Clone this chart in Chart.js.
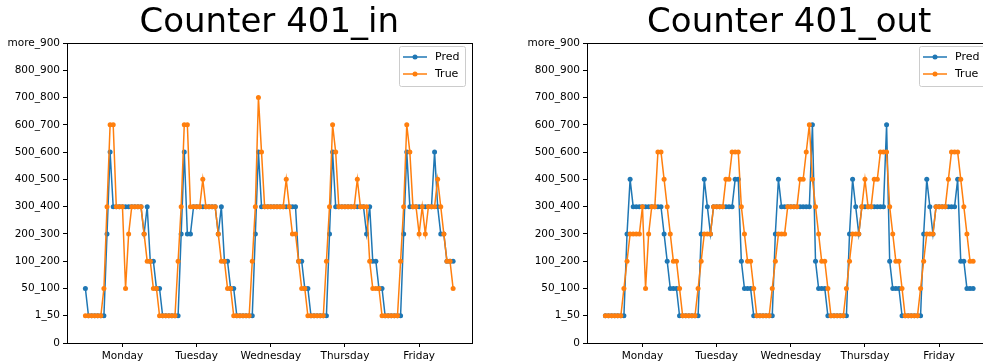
<!DOCTYPE html>
<html>
<head>
<meta charset="utf-8">
<script src="https://cdn.jsdelivr.net/npm/chart.js@4.4.0/dist/chart.umd.min.js"></script>
<style>
  html, body { margin: 0; padding: 0; background: #fff; overflow: hidden; width: 983px; height: 364px; }
  canvas { position: absolute; top: 0; }
  #chart-in { left: 0; }
  #chart-out { left: 520px; }
</style>
</head>
<body>
<canvas id="chart-in" width="490" height="364"></canvas>
<canvas id="chart-out" width="490" height="364"></canvas>
<script>
// y categories (bins) - values below are indexes into this list
const categories = ['0', '1_50', '50_100', '100_200', '200_300', '300_400', '400_500',
  '500_600', '600_700', '700_800', '800_900', 'more_900']
const days = ['Monday', 'Tuesday', 'Wednesday', 'Thursday', 'Friday']
const dayTicks = [12, 36, 60, 84, 108]

// hourly bins, Monday..Friday (24 per day)
const predIn = [
  2,1,1,1,1,1,1,4,7,5,5,5,5,5,5,5,5,5,5,4,5,3,3,2,
  2,1,1,1,1,1,1,4,7,4,4,5,5,5,5,5,5,5,5,4,5,3,3,2,
  2,1,1,1,1,1,1,4,7,5,5,5,5,5,5,5,5,5,5,5,5,3,3,2,
  2,1,1,1,1,1,1,4,7,5,5,5,5,5,5,5,5,5,5,4,5,3,3,2,
  2,1,1,1,1,1,1,4,7,5,5,5,5,5,5,5,5,7,5,4,4,3,3,3
]
const trueIn = [
  1,1,1,1,1,1,2,5,8,8,5,5,5,2,4,5,5,5,5,4,3,3,2,2,
  1,1,1,1,1,1,3,5,8,8,5,5,5,5,6,5,5,5,5,4,3,3,2,2,
  1,1,1,1,1,1,3,5,9,7,5,5,5,5,5,5,5,6,5,4,4,3,2,2,
  1,1,1,1,1,1,3,5,8,7,5,5,5,5,5,5,6,5,5,5,3,2,2,2,
  1,1,1,1,1,1,3,5,8,7,5,5,4,5,4,5,5,5,6,5,4,3,3,2
]
const predOut = [
  1,1,1,1,1,1,1,4,6,5,5,5,5,5,5,5,5,5,5,4,3,2,2,2,
  1,1,1,1,1,1,1,4,6,5,4,5,5,5,5,5,5,5,6,6,3,2,2,2,
  1,1,1,1,1,1,1,4,6,5,5,5,5,5,5,5,5,5,5,8,3,2,2,2,
  1,1,1,1,1,1,1,4,6,5,4,5,5,5,5,5,5,5,5,8,3,2,2,2,
  1,1,1,1,1,1,1,4,6,5,4,5,5,5,5,5,5,5,6,3,3,2,2,2
]
const trueOut = [
  1,1,1,1,1,1,2,3,4,4,4,4,5,2,4,5,5,7,7,6,5,4,3,3,
  2,1,1,1,1,1,2,3,4,4,4,5,5,5,5,6,6,7,7,7,5,4,3,3,
  2,1,1,1,1,1,2,3,4,4,4,5,5,5,5,6,6,7,8,6,5,4,3,3,
  2,1,1,1,1,1,2,3,4,4,4,5,6,5,5,6,6,7,7,7,5,4,3,3,
  2,1,1,1,1,1,2,3,4,4,4,5,5,5,5,6,7,7,7,6,5,4,3,3
]

const BLUE = '#1f77b4'
const ORANGE = '#ff7f0e'
const FONT = 'DejaVu Sans'

// matplotlib-style box frame + legend in the upper right
const framePlugin = {
  id: 'frameLegend',
  afterDraw(chart) {
    const ctx = chart.ctx
    const a = chart.chartArea
    ctx.save()
    ctx.strokeStyle = '#000'
    ctx.lineWidth = 1
    ctx.strokeRect(Math.round(a.left) + 0.5, Math.round(a.top) + 0.5,
      Math.round(a.right - a.left), Math.round(a.bottom - a.top))

    // legend box
    const bx = a.right - 72.5
    const by = a.top + 3
    ctx.fillStyle = 'rgba(255,255,255,0.8)'
    ctx.strokeStyle = '#cccccc'
    ctx.beginPath()
    ctx.roundRect(bx + 0.5, by + 0.5, 66, 40, 2)
    ctx.fill()
    ctx.stroke()

    const rows = [['Pred', BLUE, a.top + 14], ['True', ORANGE, a.top + 31]]
    rows.forEach(([label, color, y]) => {
      ctx.strokeStyle = color
      ctx.lineWidth = 1.5
      ctx.beginPath()
      ctx.moveTo(bx + 4, y)
      ctx.lineTo(bx + 28, y)
      ctx.stroke()
      ctx.fillStyle = color
      ctx.beginPath()
      ctx.arc(bx + 16, y, 2.5, 0, Math.PI * 2)
      ctx.fill()
      ctx.fillStyle = '#000'
      ctx.font = '11px "' + FONT + '"'
      ctx.textBaseline = 'middle'
      ctx.textAlign = 'left'
      ctx.fillText(label, bx + 36, y)
    })
    ctx.restore()
  }
}

function series(values, color, label, order) {
  return {
    label: label,
    data: values.map((v, i) => ({ x: i, y: v })),
    borderColor: color,
    backgroundColor: color,
    borderWidth: 1.5,
    pointRadius: 2.5,
    pointBorderWidth: 0,
    pointBackgroundColor: color,
    tension: 0,
    order: order
  }
}

function makeChart(id, title, pred, actual) {
  const tickFont = { family: FONT, size: 10.5 }
  return new Chart(document.getElementById(id), {
    type: 'line',
    data: {
      datasets: [
        series(pred, BLUE, 'Pred', 2),
        series(actual, ORANGE, 'True', 1)
      ]
    },
    options: {
      responsive: false,
      animation: false,
      layout: { padding: { left: 0, right: 18.5, top: 0, bottom: 0 } },
      plugins: {
        legend: { display: false },
        tooltip: { enabled: false },
        title: {
          display: true,
          text: title,
          fullSize: false,
          color: '#000',
          font: { family: FONT, size: 34, weight: 'normal', lineHeight: 1.1 },
          padding: { top: 4, bottom: 1.6 }
        }
      },
      scales: {
        x: {
          type: 'linear',
          min: -5.95,
          max: 124.95,
          afterBuildTicks: (axis) => { axis.ticks = dayTicks.map(v => ({ value: v })) },
          afterFit: (scale) => { scale.height = 21 },
          ticks: {
            callback: (v) => days[dayTicks.indexOf(v)],
            color: '#000',
            font: tickFont,
            padding: 3,
            maxRotation: 0,
            autoSkip: false
          },
          grid: { drawOnChartArea: false, drawTicks: true, tickLength: 4, color: '#000' },
          border: { display: false }
        },
        y: {
          type: 'linear',
          min: 0,
          max: 11,
          afterFit: (scale) => { scale.width = 67 },
          ticks: {
            stepSize: 1,
            callback: (v) => categories[v],
            color: '#000',
            font: tickFont,
            padding: 3
          },
          grid: { drawOnChartArea: false, drawTicks: true, tickLength: 4, color: '#000' },
          border: { display: false }
        }
      }
    },
    plugins: [framePlugin]
  })
}

makeChart('chart-in', 'Counter 401_in', predIn, trueIn)
makeChart('chart-out', 'Counter 401_out', predOut, trueOut)
</script>
</body>
</html>
